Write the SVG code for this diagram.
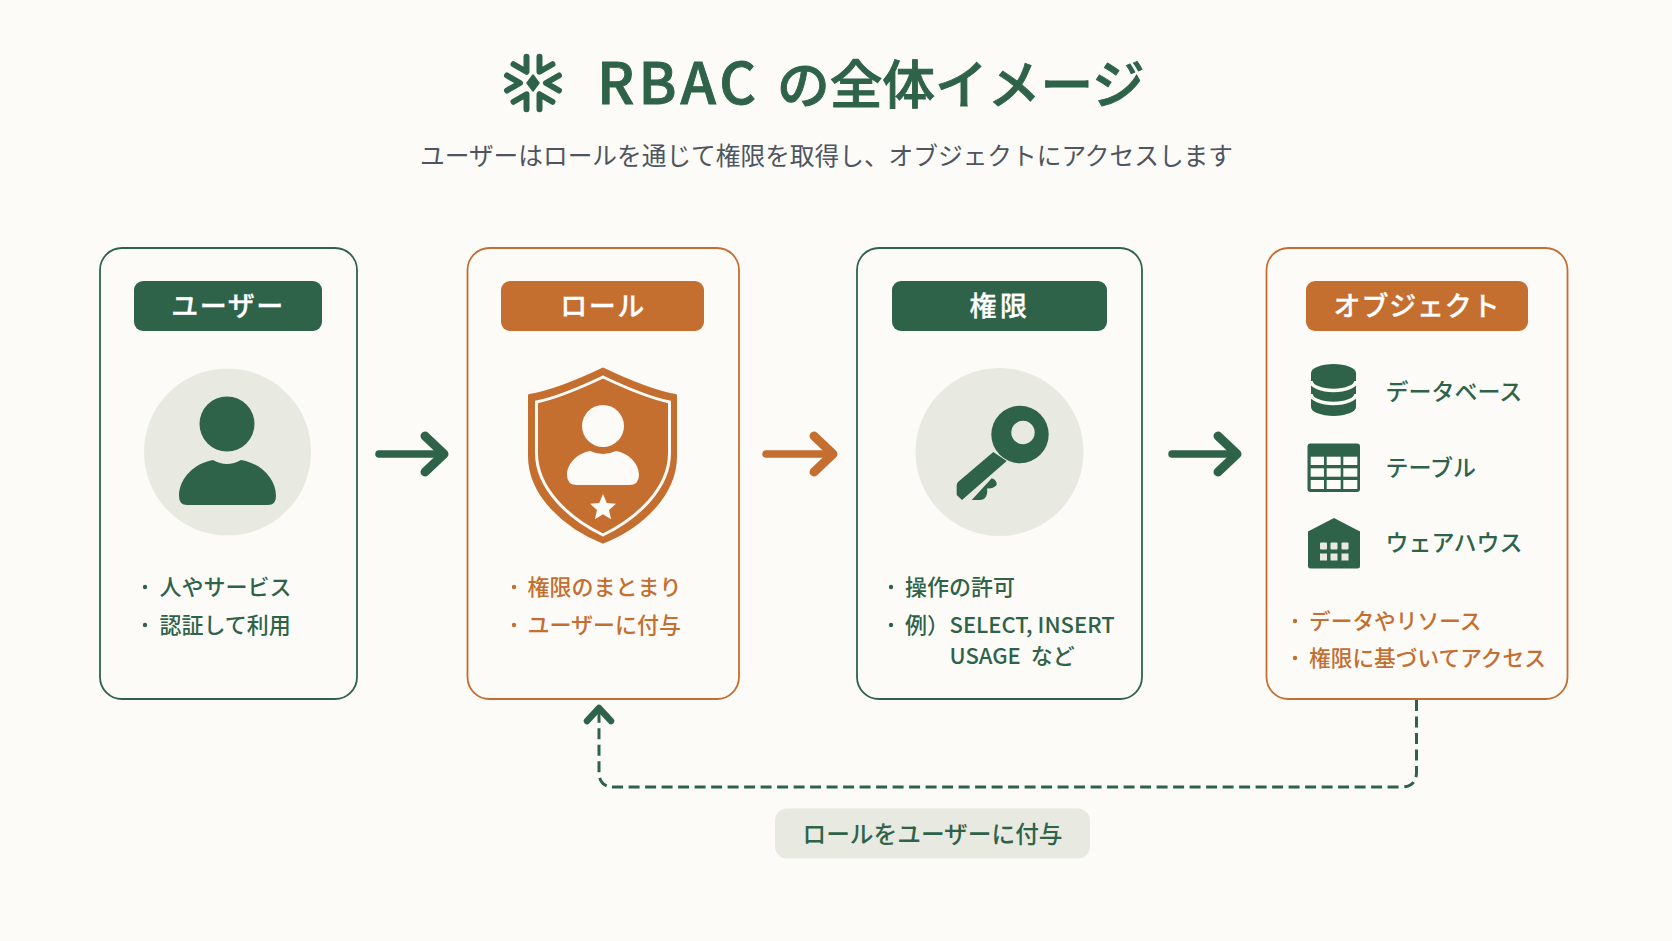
<svg xmlns="http://www.w3.org/2000/svg" width="1672" height="941" viewBox="0 0 1672 941">
<style>
text{font-family:"Noto Sans CJK JP","Noto Sans",sans-serif}
.card{fill:#fdfbf8;stroke-width:1.8}
.g-s{stroke:#2f6349}.o-s{stroke:#c46e30}
.g-f{fill:#2f6349}.o-f{fill:#c46e30}
.soft{fill:#e8eae1}
.hd{fill:#fff;font-size:27px;font-weight:500;text-anchor:middle;letter-spacing:1.5px;stroke:#fff;stroke-width:.3px}
.li{font-size:22px;font-weight:500}
.gt{fill:#2f6349}.ot{fill:#c46e30}
.flow{fill:none;stroke-width:7.5;stroke-linecap:round}
.dash{fill:none;stroke:#2f6349;stroke-width:3;stroke-dasharray:11 5.5}
.chev{fill:none;stroke-width:9;stroke-linecap:round;stroke-linejoin:round}
</style>
<defs>
<marker id="ag" markerUnits="userSpaceOnUse" markerWidth="50" markerHeight="60" refX="40" refY="30" orient="auto" overflow="visible"><path d="M24,12 L43,30 L24,48" class="chev g-s"/></marker>
<marker id="ao" markerUnits="userSpaceOnUse" markerWidth="50" markerHeight="60" refX="40" refY="30" orient="auto" overflow="visible"><path d="M24,12 L43,30 L24,48" class="chev o-s"/></marker>
<marker id="au" markerUnits="userSpaceOnUse" markerWidth="40" markerHeight="40" refX="22" refY="20" orient="auto" overflow="visible"><path d="M13,8 L26,20 L13,32" fill="none" stroke="#2f6349" stroke-width="6.500" stroke-linecap="round" stroke-linejoin="round"/></marker>
<path id="chv" d="M26,-7.500 L13,0 L26,7.500" fill="none" stroke="#2f6349" stroke-width="6" stroke-linecap="round" stroke-linejoin="round"/>
</defs>
<rect width="1672" height="941" fill="#fdfbf8"/>
<g id="title">
<g id="snowflake" transform="translate(533,83)">
<use href="#chv"/><use href="#chv" transform="rotate(60)"/><use href="#chv" transform="rotate(120)"/><use href="#chv" transform="rotate(180)"/><use href="#chv" transform="rotate(240)"/><use href="#chv" transform="rotate(300)"/>
<path d="M0,-8 L6,0 L0,8 L-6,0 Z" class="g-f" stroke="#2f6349" stroke-width="1.500" stroke-linejoin="round"/>
</g>
<text y="104" class="gt" font-weight="500" stroke="#2f6349" stroke-width=".9"><tspan x="597" font-size="57" letter-spacing="4">RBAC</tspan> <tspan x="777" font-size="52.700">の全体イメージ</tspan></text>
<text x="826.500" y="164.500" fill="#4c5560" font-size="24.700" text-anchor="middle">ユーザーはロールを通じて権限を取得し、オブジェクトにアクセスします</text>
</g>
<g id="connectors">
<path class="flow g-s" d="M379,454 H441" marker-end="url(#ag)"/>
<path class="flow o-s" d="M766,454 H830" marker-end="url(#ao)"/>
<path class="flow g-s" d="M1172,454 H1234" marker-end="url(#ag)"/>
<path class="dash" d="M1416.500,700 V772 Q1416.500,787 1401,787 H614 Q599,787 599,772 V712" marker-end="url(#au)"/>
</g>
<g id="node-user">
<rect class="card g-s" x="100" y="248" width="257" height="451" rx="22"/>
<rect class="g-f" x="134" y="281" width="188" height="50" rx="9"/>
<text class="hd" x="228" y="316">ユーザー</text>
<circle class="soft" cx="227.500" cy="452" r="83.500"/>
<circle class="g-f" cx="227" cy="424" r="27.500"/>
<path class="g-f" d="M187,505 Q179,505 179,496 C179,478 195,463 213,460 Q227,468 241,460 C260,463 276,478 276,496 Q276,505 268,505 Z"/>
<circle class="g-f" cx="145" cy="587" r="2.200"/><circle class="g-f" cx="145" cy="625" r="2.200"/>
<text class="li gt" x="159.500" y="595">人やサービス</text>
<text class="li gt" x="159.500" y="632.500">認証して利用</text>
</g>
<g id="node-role">
<rect class="card o-s" x="467.500" y="248" width="271.500" height="451" rx="22"/>
<rect class="o-f" x="501" y="281" width="203" height="50" rx="9"/>
<text class="hd" x="603" y="316">ロール</text>
<path class="o-f" stroke="#c46e30" stroke-width="3" stroke-linejoin="round" d="M603,369 C580,380 555,391 529.500,395.500 V456 C529.500,495 565,527 603,542 C641,527 675.500,495 675.500,456 V395.500 C651,391 626,380 603,369 Z"/>
<path fill="none" stroke="#fdfbf8" stroke-width="3" d="M603,377 C582,387 560,397 536.500,402 V453 C536.500,488 568,518 603,535 C638,518 669.500,488 669.500,453 V402 C646,397 624,387 603,377 Z"/>
<circle cx="603" cy="426" r="21" fill="#fdfbf8"/>
<path fill="#fdfbf8" d="M577,485 Q567,485 567,475 C567,463 578,453 590,451 Q603,457 616,451 C628,453 639,463 639,475 Q639,485 629,485 Z"/>
<path fill="#fdfbf8" d="M603,494 L606.800,503 L616,503.800 L609,510 L611.100,519.200 L603,514.300 L594.900,519.200 L597,510 L590,503.800 L599.200,503 Z"/>
<circle class="o-f" cx="514" cy="587" r="2.200"/><circle class="o-f" cx="514" cy="625" r="2.200"/>
<text class="li ot" x="527.500" y="595">権限のまとまり</text>
<text class="li ot" x="527.500" y="632.500">ユーザーに付与</text>
</g>
<g id="node-permission">
<rect class="card g-s" x="857" y="248" width="285" height="451" rx="22"/>
<rect class="g-f" x="892" y="281" width="215" height="50" rx="9"/>
<text class="hd" x="1000" y="316" style="letter-spacing:3.500px">権限</text>
<circle class="soft" cx="999.500" cy="452" r="84"/>
<path class="g-f" d="M993.300,452 L958,482 Q956.700,483.300 956.700,485 V495 L962,500 L1006.700,461 Z"/>
<circle class="g-f" cx="1020" cy="434.500" r="28.700"/>
<circle class="soft" cx="1023" cy="432.500" r="11.700"/>
<path class="g-f" d="M971.700,500 L991.700,478.300 Q997,480 996.700,485 Q993,489 987,488.500 Q988,494 985,498 Q983,500 980,500 Z"/>
<circle class="g-f" cx="891" cy="587" r="2.200"/><circle class="g-f" cx="891" cy="625" r="2.200"/>
<text class="li gt" x="905" y="595">操作の許可</text>
<text class="li gt" x="905" y="632.500">例）</text>
<text class="li gt" x="949.500" y="632.500">SELECT, INSERT</text>
<text class="li gt" x="949.500" y="663.500" xml:space="preserve">USAGE  など</text>
</g>
<g id="node-object">
<rect class="card o-s" x="1266.500" y="248" width="301" height="451" rx="22"/>
<rect class="o-f" x="1306" y="281" width="222" height="50" rx="9"/>
<text class="hd" x="1417" y="316" style="letter-spacing:.8px">オブジェクト</text>
<g id="icon-db">
<path class="g-f" d="M1311,373 A22.500,9 0 0 1 1356,373 V407 A22.500,9 0 0 1 1311,407 Z"/>
<path fill="none" stroke="#fdfbf8" stroke-width="3.500" d="M1311,381 A22.500,9.500 0 0 0 1356,381 M1311,394 A22.500,9.500 0 0 0 1356,394"/>
</g>
<text x="1385.500" y="400" class="gt" font-size="23" font-weight="500">データベース</text>
<g id="icon-table">
<rect class="g-f" x="1307.500" y="443.500" width="52.500" height="48.500" rx="3"/>
<g fill="#fdfbf8">
<rect x="1310.700" y="456.700" width="13.300" height="8.300"/><rect x="1326.700" y="456.700" width="14" height="8.300"/><rect x="1343.300" y="456.700" width="14" height="8.300"/>
<rect x="1310.700" y="468.300" width="13.300" height="8.400"/><rect x="1326.700" y="468.300" width="14" height="8.400"/><rect x="1343.300" y="468.300" width="14" height="8.400"/>
<rect x="1310.700" y="480" width="13.300" height="9"/><rect x="1326.700" y="480" width="14" height="9"/><rect x="1343.300" y="480" width="14" height="9"/>
</g>
</g>
<text x="1385.500" y="476" class="gt" font-size="23" font-weight="500">テーブル</text>
<g id="icon-warehouse">
<path class="g-f" d="M1334,518 L1360,531.500 V566 Q1360,568.500 1357.500,568.500 H1310.500 Q1308,568.500 1308,566 V531.500 Z"/>
<g class="soft">
<rect x="1320" y="542.500" width="7" height="7" rx="1"/><rect x="1330.500" y="542.500" width="7" height="7" rx="1"/><rect x="1341.500" y="542.500" width="7" height="7" rx="1"/>
<rect x="1320" y="553.500" width="7" height="7"/><rect x="1330.500" y="553.500" width="7" height="7"/><rect x="1341.500" y="553.500" width="7" height="7"/>
</g>
</g>
<text x="1385.500" y="551" class="gt" font-size="23" font-weight="500">ウェアハウス</text>
<circle class="o-f" cx="1295" cy="621" r="2.200"/><circle class="o-f" cx="1295" cy="658" r="2.200"/>
<text class="li ot" x="1309" y="628.500" style="font-size:21.700px">データやリソース</text>
<text class="li ot" x="1309" y="665.500" style="font-size:21.700px">権限に基づいてアクセス</text>
</g>
<g id="edge-label">
<rect class="soft" x="775" y="808.500" width="315" height="50" rx="12"/>
<text x="932.500" y="842.500" class="gt" font-size="23.700" font-weight="500" text-anchor="middle">ロールをユーザーに付与</text>
</g>
</svg>
